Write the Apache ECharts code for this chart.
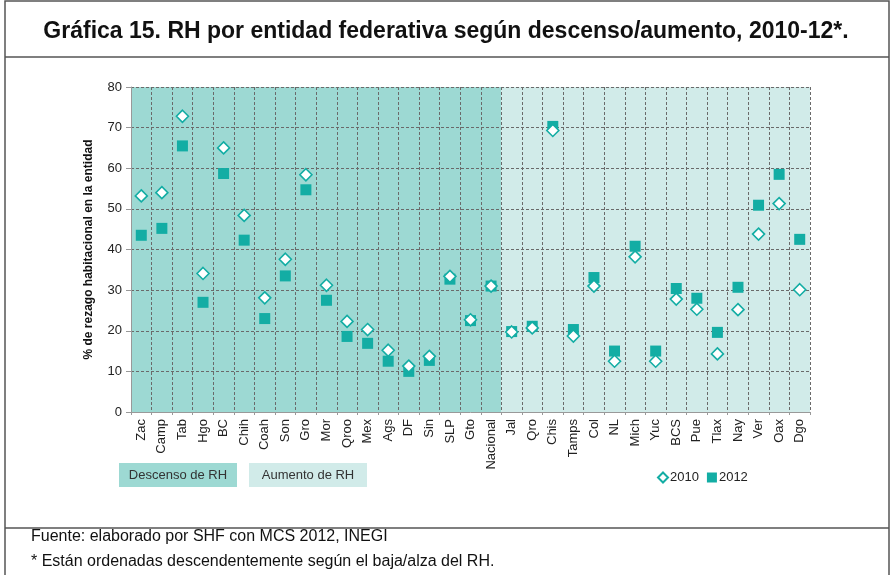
<!DOCTYPE html>
<html>
<head>
<meta charset="utf-8">
<script src="https://cdn.jsdelivr.net/npm/echarts@6/dist/echarts.min.js"></script>
<style>
  html, body { margin: 0; padding: 0; background: #fff; }
  #main { width: 892px; height: 575px; }
</style>
</head>
<body>
<div id="main"></div>
<script>
// entidades con descenso del RH (incluye Nacional) y con aumento
var descenso = ['Zac', 'Camp', 'Tab', 'Hgo', 'BC', 'Chih', 'Coah', 'Son', 'Gro', 'Mor',
    'Qroo', 'Mex', 'Ags', 'DF', 'Sin', 'SLP', 'Gto', 'Nacional'];
var aumento = ['Jal', 'Qro', 'Chis', 'Tamps', 'Col', 'NL', 'Mich', 'Yuc', 'BCS', 'Pue',
    'Tlax', 'Nay', 'Ver', 'Oax', 'Dgo'];
var entidades = descenso.concat(aumento);

var rh2010 = [53.2, 54.0, 72.8, 34.1, 65.0, 48.4, 28.1, 37.6, 58.4, 31.2,
    22.3, 20.3, 15.2, 11.3, 13.7, 33.4, 22.7, 31.0,
    19.7, 20.7, 69.3, 18.7, 31.0, 12.5, 38.2, 12.5, 27.8, 25.3,
    14.3, 25.2, 43.8, 51.3, 30.1];
var rh2012 = [43.5, 45.2, 65.5, 27.0, 58.7, 42.3, 23.0, 33.5, 54.7, 27.5,
    18.6, 16.9, 12.5, 10.0, 12.7, 32.7, 22.5, 31.0,
    19.8, 21.1, 70.3, 20.3, 33.1, 15.0, 40.8, 15.0, 30.4, 28.0,
    19.6, 30.7, 50.9, 58.5, 42.5];

var teal = '#13ADA4';
var font = 'Liberation Sans, Arial, sans-serif';

var chart = echarts.init(document.getElementById('main'));
var option = {
    animation: false,
    textStyle: {fontFamily: font},
    title: {
        text: 'Gráfica 15. RH por entidad federativa según descenso/aumento, 2010-12*.',
        left: 'center',
        top: 15,
        textStyle: {fontSize: 23, fontWeight: 'bold', color: '#111', fontFamily: font}
    },
    legend: {
        left: 652,
        top: 466,
        itemWidth: 10,
        itemHeight: 10,
        itemGap: 8,
        textStyle: {fontSize: 13, color: '#222', padding: [0, 0, 0, -3]},
        data: [{name: '2010', icon: 'diamond'}, {name: '2012', icon: 'rect'}]
    },
    grid: {left: 131, right: 82, top: 87, bottom: 163},
    xAxis: [{
        type: 'category',
        data: entidades,
        z: 2,
        axisLine: {lineStyle: {color: '#999'}},
        axisTick: {show: true, length: 3, lineStyle: {color: '#999'}},
        axisLabel: {rotate: 90, fontSize: 13, color: '#222', interval: 0, margin: 7},
        splitLine: {show: true, interval: 0, lineStyle: {color: '#6a6a6a', type: [3, 2]}}
    }, {
        type: 'value',
        min: 0,
        max: entidades.length,
        show: false
    }],
    yAxis: {
        type: 'value',
        min: 0,
        max: 80,
        interval: 10,
        z: 2,
        name: '% de rezago habitacional en la entidad',
        nameLocation: 'middle',
        nameGap: 36,
        nameTextStyle: {fontSize: 12, fontWeight: 'bold', color: '#111'},
        axisLine: {show: true, lineStyle: {color: '#999'}},
        axisTick: {show: true, length: 5, lineStyle: {color: '#999'}},
        axisLabel: {fontSize: 13, color: '#222', margin: 9},
        splitLine: {lineStyle: {color: '#6a6a6a', type: [3, 2]}}
    },
    series: [{
        name: 'zonas',
        type: 'scatter',
        xAxisIndex: 1,
        data: [],
        silent: true,
        z: 1,
        markArea: {
            silent: true,
            data: [
                [{xAxis: 0, itemStyle: {color: '#9DD9D3'}}, {xAxis: descenso.length}],
                [{xAxis: descenso.length, itemStyle: {color: '#D1EBE9'}}, {xAxis: entidades.length}]
            ]
        }
    }, {
        name: '2012',
        type: 'scatter',
        symbol: 'rect',
        symbolSize: 11,
        z: 3,
        itemStyle: {color: teal, opacity: 1},
        data: rh2012
    }, {
        name: '2010',
        type: 'scatter',
        symbol: 'diamond',
        symbolSize: 12,
        z: 4,
        itemStyle: {color: '#fff', borderColor: teal, borderWidth: 1.6, opacity: 1},
        data: rh2010
    }],
    graphic: [
        {type: 'rect', shape: {x: 5, y: 1, width: 884, height: 590}, style: {fill: null, stroke: '#555', lineWidth: 1.5}, silent: true},
        {type: 'line', shape: {x1: 5, y1: 57, x2: 889, y2: 57}, style: {stroke: '#555', lineWidth: 1.5}, silent: true},
        {type: 'line', shape: {x1: 5, y1: 528, x2: 889, y2: 528}, style: {stroke: '#555', lineWidth: 1.5}, silent: true},
        {type: 'rect', shape: {x: 119, y: 463, width: 118, height: 24}, style: {fill: '#9DD9D3'}, silent: true},
        {type: 'text', x: 178, y: 475, style: {text: 'Descenso de RH', fill: '#333', font: '13px ' + font, textAlign: 'center', textVerticalAlign: 'middle'}, silent: true},
        {type: 'rect', shape: {x: 249, y: 463, width: 118, height: 24}, style: {fill: '#D1EBE9'}, silent: true},
        {type: 'text', x: 308, y: 475, style: {text: 'Aumento de RH', fill: '#333', font: '13px ' + font, textAlign: 'center', textVerticalAlign: 'middle'}, silent: true},
        {type: 'text', x: 31, y: 537, style: {text: 'Fuente: elaborado por SHF con MCS 2012, INEGI', fill: '#111', font: '16px ' + font, textVerticalAlign: 'middle'}, silent: true},
        {type: 'text', x: 31, y: 562, style: {text: '* Están ordenadas descendentemente según el baja/alza del RH.', fill: '#111', font: '16px ' + font, textVerticalAlign: 'middle'}, silent: true}
    ]
};
chart.setOption(option);
</script>
</body>
</html>
